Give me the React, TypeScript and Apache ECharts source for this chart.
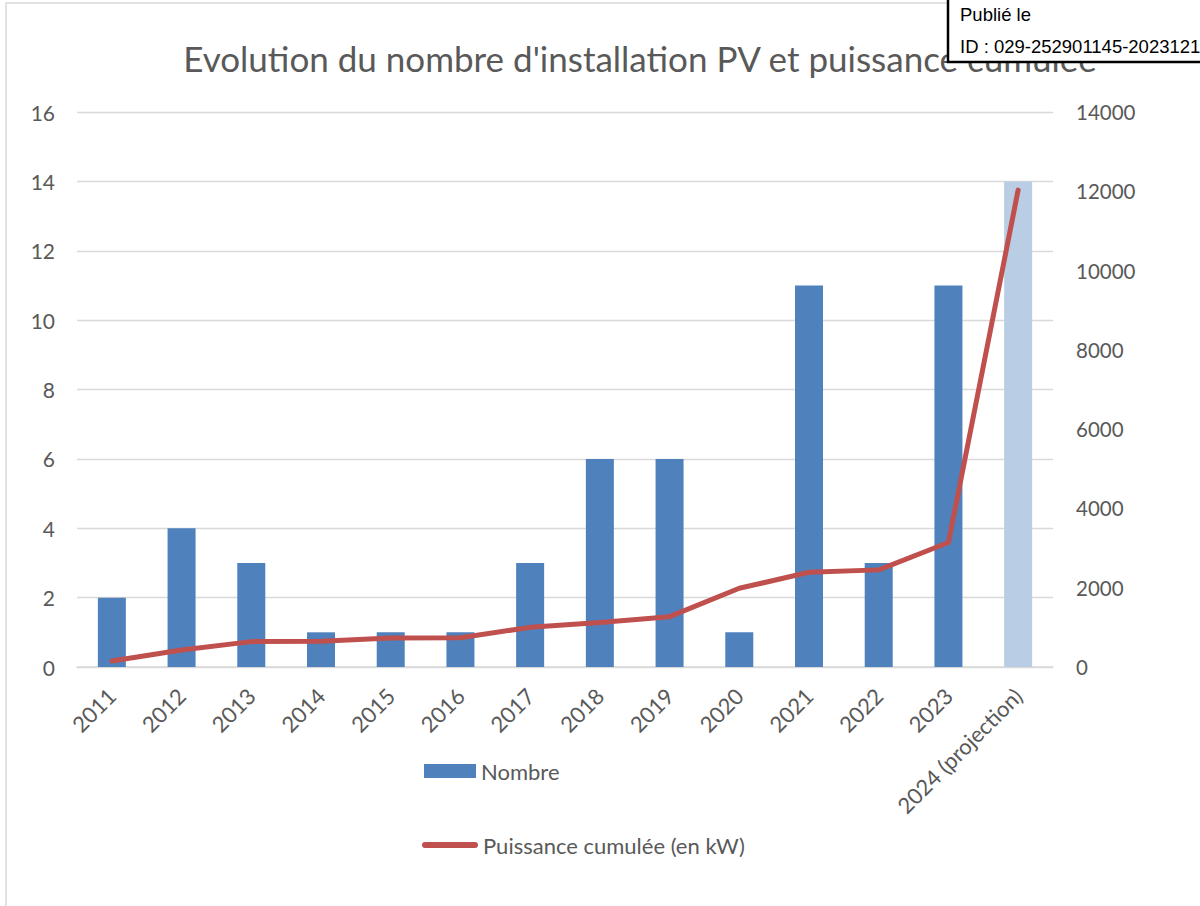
import React, { useEffect, useRef } from "react";
import * as echarts from "echarts";

const categories = ["2011", "2012", "2013", "2014", "2015", "2016", "2017", "2018", "2019", "2020", "2021", "2022", "2023", "2024 (projection)"];
const nombre = [2, 4, 3, 1, 1, 1, 3, 6, 6, 1, 11, 3, 11, 14];
const puissance = [150, 430, 640, 650, 730, 740, 1000, 1120, 1270, 1985, 2390, 2450, 3140, 12030];
const leftTicks = { min: 0, max: 16, interval: 2 };
const rightTicks = { min: 0, max: 14000, interval: 2000 };

const FONT = "Lato";
const TEXT = "#595959";

export default function App() {
  const ref = useRef<HTMLDivElement>(null);
  useEffect(() => {
    if (!ref.current) return;
    const chart = echarts.init(ref.current, null, { renderer: "svg" });
    chart.setOption({
      animation: false,
      backgroundColor: "#ffffff",
      textStyle: { fontFamily: FONT },
      title: {
        text: "Evolution du nombre d'installation PV et puissance cumulée",
        left: 640,
        textAlign: "center",
        top: 40,
        padding: 0,
        textStyle: { fontFamily: FONT, fontSize: 35, fontWeight: "normal", color: TEXT },
      },
      grid: { left: 77, right: 147, top: 112, bottom: 239, containLabel: false },
      legend: [
        {
          orient: "vertical",
          left: 424,
          top: 760,
          padding: 0,
          itemWidth: 52,
          itemHeight: 14,
          itemGap: 5,
          icon: "rect",
          data: ["Nombre"],
          textStyle: { fontFamily: FONT, fontSize: 22, color: TEXT },
        },
        {
          orient: "vertical",
          left: 422,
          top: 834,
          padding: 0,
          itemWidth: 56,
          itemHeight: 6,
          icon: "path://M3,0 H53 A3,3 0 0 1 53,6 H3 A3,3 0 0 1 3,0 Z",
          data: ["Puissance cumulée (en kW)"],
          textStyle: { fontFamily: FONT, fontSize: 22, color: TEXT },
        },
      ],
      xAxis: {
        type: "category",
        data: categories,
        axisLine: { lineStyle: { color: "#D9D9D9", width: 1.5 } },
        axisTick: { show: false },
        axisLabel: { rotate: 45, margin: 25, interval: 0, fontFamily: FONT, fontSize: 22, color: TEXT },
      },
      yAxis: [
        {
          type: "value",
          ...leftTicks,
          axisLine: { show: false },
          axisTick: { show: false },
          splitLine: { lineStyle: { color: "#D9D9D9", width: 1.3 } },
          axisLabel: { margin: 22, fontFamily: FONT, fontSize: 21, color: TEXT },
        },
        {
          type: "value",
          ...rightTicks,
          position: "right",
          axisLine: { show: false },
          axisTick: { show: false },
          splitLine: { show: false },
          axisLabel: { margin: 23, fontFamily: FONT, fontSize: 20.5, color: TEXT, formatter: (v: number) => String(v) },
        },
      ],
      series: [
        {
          name: "Nombre",
          type: "bar",
          barWidth: 28,
          itemStyle: { color: "#4F81BD" },
          data: nombre.map((v, i) =>
            i === nombre.length - 1 ? { value: v, itemStyle: { color: "#B9CDE5" } } : v
          ),
        },
        {
          name: "Puissance cumulée (en kW)",
          type: "line",
          yAxisIndex: 1,
          symbol: "none",
          itemStyle: { color: "#C0504D" },
          lineStyle: { color: "#C0504D", width: 5, cap: "round", join: "round" },
          data: puissance,
        },
      ],
      graphic: [
        {
          type: "rect",
          shape: { x: 6, y: 3, width: 1300, height: 1000 },
          style: { fill: "none", stroke: "#D9D9D9", lineWidth: 1.5 },
          silent: true,
          z: -1,
        },
        {
          type: "rect",
          z: 100,
          zlevel: 0,
          shape: { x: 948, y: -10, width: 300, height: 72 },
          style: { fill: "#ffffff", stroke: "#000000", lineWidth: 2.5 },
        },
        {
          type: "text",
          z: 101,
          x: 960,
          y: 14,
          style: { text: "Publié le", fontFamily: "Liberation Sans", fontSize: 18.5, fill: "#000000", verticalAlign: "middle" },
        },
        {
          type: "text",
          z: 101,
          x: 960,
          y: 46,
          style: { text: "ID : 029-252901145-2023121", fontFamily: "Liberation Sans", fontSize: 18.5, fill: "#000000", verticalAlign: "middle" },
        },
      ],
    });
    return () => chart.dispose();
  }, []);
  return <div ref={ref} style={{ position: "absolute", left: 0, top: 0, width: 1200, height: 906 }} />;
}
